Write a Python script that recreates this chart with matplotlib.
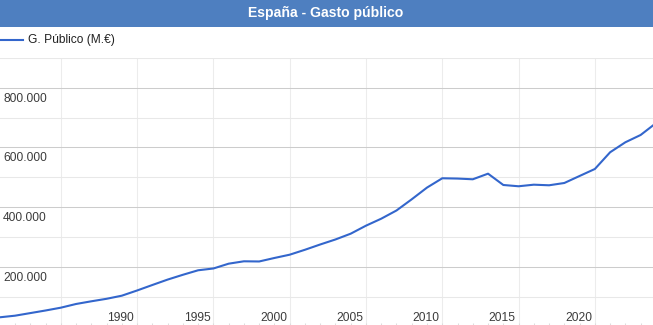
import matplotlib
matplotlib.use("Agg")
import matplotlib.pyplot as plt
from matplotlib.lines import Line2D
from matplotlib.patches import Rectangle
import matplotlib.transforms as mtransforms

# ---- data ----
years = list(range(1980, 2024))
gasto = [30800, 36200, 44900, 53600, 63000, 75400, 84400, 92800, 103200, 120600,
         139000, 157100, 173200, 188300, 194300, 210400, 218400, 217800, 229500, 240500,
         257000, 274700, 291500, 310900, 337700, 361100, 388600, 426100, 465300, 496500,
         495500, 493100, 511900, 474000, 469700, 475000, 473000, 480700, 504200, 527600,
         583600, 617100, 641500, 681000]
series_label = "G. Público (M.€)"
title = "España - Gasto público"
x_tick_years = [1990, 1995, 2000, 2005, 2010, 2015, 2020]
x_grid_years = [1985, 1990, 1995, 2000, 2005, 2010, 2015, 2020]
y_tick_values = [200000, 400000, 600000, 800000]

FONT = "Liberation Sans"
W, H = 653, 325
fig = plt.figure(figsize=(W / 100, H / 100), dpi=100)
fig.patch.set_facecolor("white")

# plot area
top_px, bot_px = 57.8, 326.5
ax = fig.add_axes([0, 1 - bot_px / H, 1, (bot_px - top_px) / H])
ax.set_facecolor("white")
for s in ax.spines.values():
    s.set_visible(False)

# each yearly value is plotted at the end of its year
xs = [y + 1 for y in years]
ax.plot(xs, gasto, color="#3366cc", lw=1.5, solid_joinstyle="round", zorder=5)

ax.set_xlim(1981.017, 2023.81)
ax.set_ylim(0, 900000)

# horizontal gridlines
for v in range(100000, 900001, 100000):
    major = (v % 200000 == 0)
    ax.axhline(v, color="#cccccc" if major else "#e8e8e8", lw=0.75, zorder=1)
# vertical gridlines
for yv in x_grid_years:
    ax.axvline(yv, color="#ececec", lw=0.75, zorder=0.5)

ax.set_xticks([])
ax.set_yticks([])
# small year ticks at the bottom
ax.set_xticks(list(range(1982, 2024)), minor=True)
ax.tick_params(axis="x", which="minor", direction="in", length=3.0,
               color="#dddddd", width=0.75)
ax.tick_params(axis="both", which="major", length=0)

# y labels (inside, below the gridline)
for v in y_tick_values:
    tr = mtransforms.offset_copy(
        mtransforms.blended_transform_factory(ax.transAxes, ax.transData),
        fig=fig, x=2.2, y=-10.0, units="points")
    ax.text(0, v, f"{v:,.0f}".replace(",", "."), transform=tr, ha="left",
            va="baseline", fontsize=8.64, family=FONT, color="#3c3c3c", zorder=6)

# x labels (inside, right-aligned just before each gridline)
for yv in x_tick_years:
    tr = mtransforms.offset_copy(
        mtransforms.blended_transform_factory(ax.transData, ax.transAxes),
        fig=fig, x=-2.0, y=4.0, units="points")
    ax.text(yv, 0, str(yv), transform=tr, ha="right", va="baseline",
            fontsize=8.64, family=FONT, color="#3c3c3c", zorder=6)

# title bar
fig.patches.append(Rectangle((0, 1 - 26.7 / H), 1, 26.7 / H, transform=fig.transFigure,
                             facecolor="#4e7fc0", edgecolor="none", zorder=10))
fig.text(326 / W, 1 - 12.8 / H, title, ha="center", va="center", color="white",
         fontsize=10.08, fontweight="bold", family=FONT, zorder=11)

# legend
fig.lines.append(Line2D([0, 22.7 / W], [1 - 40 / H, 1 - 40 / H], transform=fig.transFigure,
                        color="#3366cc", lw=1.5))
fig.text(28.3 / W, 1 - 40.5 / H, series_label, ha="left", va="center", color="#222222",
         fontsize=8.64, family=FONT)

fig.savefig("out.png", dpi=100)
